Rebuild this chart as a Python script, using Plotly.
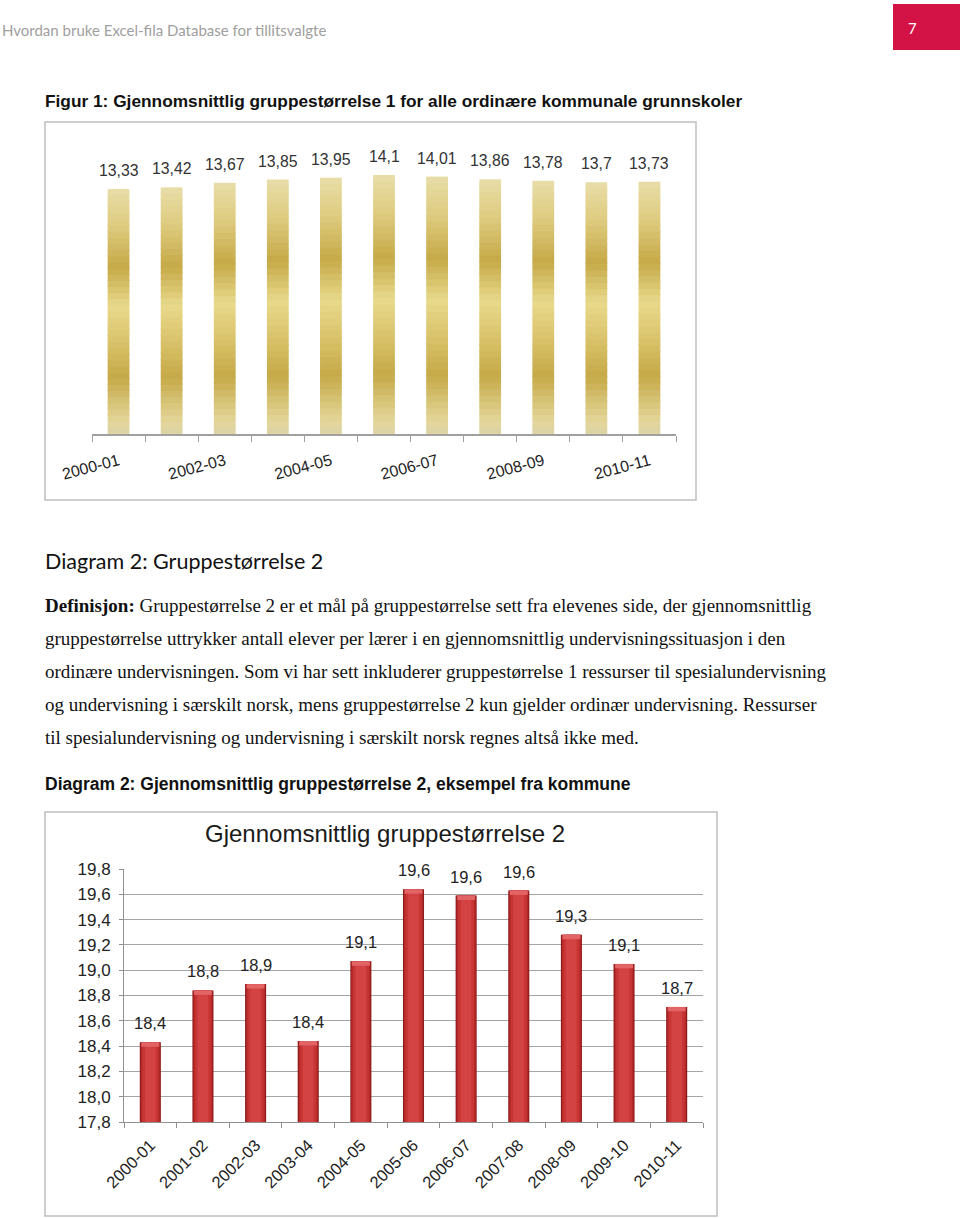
import plotly.graph_objects as go

# ---------------- data ----------------
years1 = ["2000-01", "2001-02", "2002-03", "2003-04", "2004-05", "2005-06",
          "2006-07", "2007-08", "2008-09", "2009-10", "2010-11"]
values1 = [13.33, 13.42, 13.67, 13.85, 13.95, 14.1, 14.01, 13.86, 13.78, 13.7, 13.73]
ticktext1 = ["2000-01", "", "2002-03", "", "2004-05", "", "2006-07", "", "2008-09", "", "2010-11"]

years2 = ["2000-01", "2001-02", "2002-03", "2003-04", "2004-05", "2005-06",
          "2006-07", "2007-08", "2008-09", "2009-10", "2010-11"]
values2 = [18.43, 18.84, 18.89, 18.44, 19.07, 19.64, 19.59, 19.63, 19.28, 19.05, 18.71]

W, H = 960, 1218


def px(x):
    return x / W


def py(y):
    return 1 - y / H


fig = go.Figure()

# ---------- chart 1: gold gradient bars (stacked bands) ----------
stops = [(0.00, (0xDD, 0xD3, 0xA6)), (0.05, (0xE3, 0xD6, 0x9A)), (0.23, (0xC6, 0xAA, 0x48)),
         (0.40, (0xDC, 0xC6, 0x70)), (0.52, (0xE8, 0xD9, 0x8C)), (0.68, (0xC6, 0xAA, 0x48)),
         (0.86, (0xDF, 0xCD, 0x82)), (1.00, (0xE8, 0xDD, 0xA8))]


def grad(f):
    for (f0, c0), (f1, c1) in zip(stops[:-1], stops[1:]):
        if f0 <= f <= f1:
            t = (f - f0) / (f1 - f0)
            c = [round(a + (b - a) * t) for a, b in zip(c0, c1)]
            return "rgb(%d,%d,%d)" % tuple(c)
    return "rgb(232,221,168)"


N = 40
for i in range(N):
    f0, f1 = i / N, (i + 1) / N
    top_extra = 0.0 if i == N - 1 else 0.06
    fig.add_trace(go.Bar(
        x=years1, y=[v * (f1 - f0) + top_extra for v in values1],
        base=[v * f0 for v in values1],
        width=0.41, marker=dict(color=grad((f0 + f1) / 2), line=dict(width=0)),
        xaxis="x", yaxis="y", showlegend=False, hoverinfo="skip"))

for cat, v in zip(years1, values1):
    fig.add_annotation(x=cat, y=v, xref="x", yref="y", yanchor="bottom", yshift=8,
                       text=f"{v:g}".replace(".", ","), showarrow=False,
                       font=dict(family="Liberation Sans, Arial", size=15.8, color="#333333"))

# ---------- chart 2: red bevel bars ----------
layers = [(0.40, "#8E1A1A"), (0.36, "#B42A2A"), (0.30, "#C83535"), (0.20, "#D44343")]
for wdt, col in layers:
    fig.add_trace(go.Bar(
        x=years2, y=[v - 17.8 for v in values2], base=17.8,
        width=wdt, marker=dict(color=col, line=dict(width=0)),
        xaxis="x2", yaxis="y2", showlegend=False, hoverinfo="skip"))
# light top cap
fig.add_trace(go.Bar(
    x=years2, y=[0.035 for v in values2], base=[v - 0.035 for v in values2],
    width=0.34, marker=dict(color="#E26464", line=dict(width=0)),
    xaxis="x2", yaxis="y2", showlegend=False, hoverinfo="skip"))

for cat, v in zip(years2, values2):
    fig.add_annotation(x=cat, y=v, xref="x2", yref="y2", yanchor="bottom", yshift=8,
                       text=f"{v:.1f}".replace(".", ","), showarrow=False,
                       font=dict(family="Liberation Sans, Arial", size=16.5, color="#222222"))

# ---------------- layout ----------------
fig.update_layout(
    width=W, height=H, margin=dict(l=0, r=0, t=0, b=0, pad=0, autoexpand=False),
    autosize=False,
    paper_bgcolor="white", plot_bgcolor="rgba(0,0,0,0)",
    barmode="overlay", separators=",.", showlegend=False,
    xaxis=dict(domain=[px(92), px(676)], type="category", tickmode="array",
               tickvals=years1, ticktext=ticktext1, tickangle=-15, automargin=False,
               tickson="boundaries", ticks="outside", ticklen=6, tickcolor="#A0A0A0",
               showline=True, linecolor="#A0A0A0", linewidth=1.5, showgrid=False,
               tickfont=dict(family="Liberation Sans, Arial", size=16, color="#222222"),
               ticklabelstandoff=10, fixedrange=True),
    yaxis=dict(domain=[py(434), py(140)], range=[0, 16], visible=False, fixedrange=True,
               automargin=False),
    xaxis2=dict(domain=[px(124), px(703)], type="category", tickangle=-45, automargin=False,
                tickson="boundaries", ticks="outside", ticklen=5, tickcolor="#909090",
                showline=True, linecolor="#909090", linewidth=1, showgrid=False,
                tickfont=dict(family="Liberation Sans, Arial", size=16.5, color="#222222"),
                ticklabelstandoff=6, anchor="y2", fixedrange=True),
    yaxis2=dict(domain=[py(1122), py(869)], range=[17.8, 19.8], dtick=0.2, tick0=17.8,
                tickformat=".1f", showgrid=True, gridcolor="#A6A6A6", gridwidth=1,
                showline=True, linecolor="#909090", linewidth=1, ticks="outside",
                ticklen=4, tickcolor="#909090", zeroline=False, automargin=False,
                tickfont=dict(family="Liberation Sans, Arial", size=17, color="#222222"),
                ticklabelstandoff=5, anchor="x2", fixedrange=True),
)

# ---------- page decorations ----------
shapes = [
    dict(type="rect", xref="paper", yref="paper", x0=px(893), x1=px(960), y0=py(50), y1=py(4),
         fillcolor="#D31245", line=dict(width=0)),
    dict(type="rect", xref="paper", yref="paper", x0=px(45), x1=px(696), y0=py(500), y1=py(122),
         fillcolor="rgba(0,0,0,0)", line=dict(color="#BFBFBF", width=1.5)),
    dict(type="rect", xref="paper", yref="paper", x0=px(45), x1=px(717), y0=py(1216), y1=py(812),
         fillcolor="rgba(0,0,0,0)", line=dict(color="#BFBFBF", width=1.5)),
]
for s in shapes:
    fig.add_shape(**s)


def text(x, y, t, size, color="#000000", family="Liberation Sans, Arial", anchor="left"):
    fig.add_annotation(x=px(x), y=py(y), xref="paper", yref="paper", text=t, showarrow=False,
                       xanchor=anchor, yanchor="middle", align="left",
                       font=dict(family=family, size=size, color=color))


text(0, 30, "Hvordan bruke Excel-fila Database for tillitsvalgte", 15, "#A0A0A0", "Lato")
text(912, 28, "7", 15, "#FFFFFF", "Lato", anchor="center")
text(43, 101, "<b>Figur 1: Gjennomsnittlig gruppestørrelse 1 for alle ordinære kommunale grunnskoler</b>",
     17.3, "#111111")
text(43, 561, "Diagram 2: Gruppestørrelse 2", 21.5, "#111111", "Lato")

body = [
    "<b>Definisjon:</b> Gruppestørrelse 2 er et mål på gruppestørrelse sett fra elevenes side, der gjennomsnittlig",
    "gruppestørrelse uttrykker antall elever per lærer i en gjennomsnittlig undervisningssituasjon i den",
    "ordinære undervisningen. Som vi har sett inkluderer gruppestørrelse 1 ressurser til spesialundervisning",
    "og undervisning i særskilt norsk, mens gruppestørrelse 2 kun gjelder ordinær undervisning. Ressurser",
    "til spesialundervisning og undervisning i særskilt norsk regnes altså ikke med.",
]
for i, line in enumerate(body):
    text(43, 605 + 33 * i, line, 19, "#111111", "Liberation Serif, Times New Roman")

text(43, 784, "<b>Diagram 2: Gjennomsnittlig gruppestørrelse 2, eksempel fra kommune</b>", 17.5, "#111111")
fig.add_annotation(x=px(385), y=py(833), xref="paper", yref="paper", showarrow=False,
                   text="Gjennomsnittlig gruppestørrelse 2", xanchor="center", yanchor="middle",
                   font=dict(family="Liberation Sans, Arial", size=24, color="#1A1A1A"))

fig.write_html("out.html", config={"displayModeBar": False},
               post_script="document.body.style.margin='0px';")
